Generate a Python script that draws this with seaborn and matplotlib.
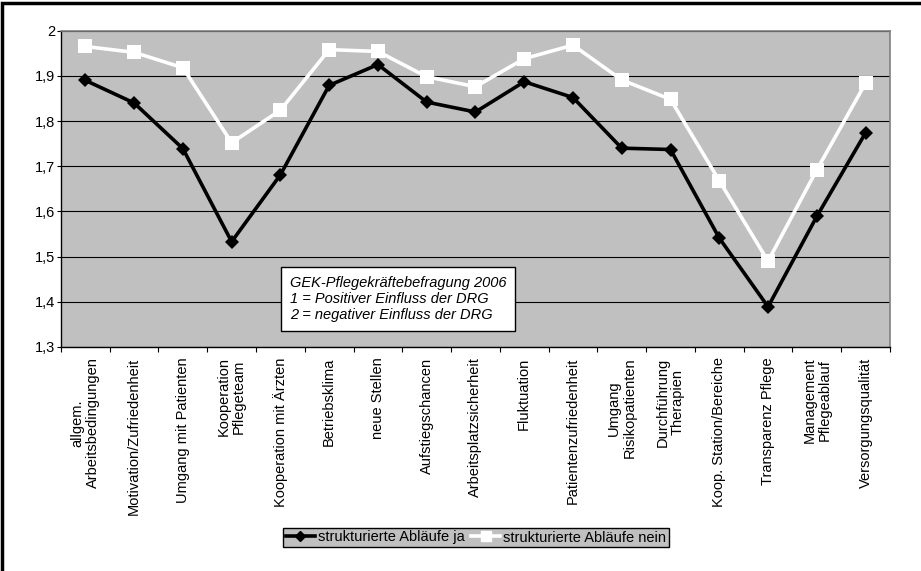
import numpy as np
import pandas as pd
import seaborn as sns
import matplotlib.pyplot as plt
from matplotlib.patches import Rectangle
from matplotlib.lines import Line2D

# data
categories = ["allgem.\nArbeitsbedingungen", "Motivation/Zufriedenheit", "Umgang mit Patienten",
              "Kooperation\nPflegeteam", "Kooperation mit Ärzten", "Betriebsklima", "neue Stellen",
              "Aufstiegschancen", "Arbeitsplatzsicherheit", "Fluktuation", "Patientenzufriedenheit",
              "Umgang\nRisikopatienten", "Durchführung\nTherapien", "Koop. Station/Bereiche",
              "Transparenz Pflege", "Management\nPflegeablauf", "Versorgungsqualität"]
ja = [1.890, 1.840, 1.739, 1.533, 1.681, 1.879, 1.925, 1.842, 1.820, 1.887, 1.852,
      1.740, 1.737, 1.541, 1.389, 1.589, 1.774]
nein = [1.965, 1.952, 1.918, 1.752, 1.824, 1.958, 1.954, 1.898, 1.876, 1.938, 1.968,
        1.891, 1.848, 1.668, 1.490, 1.692, 1.884]
series_names = ["strukturierte Abläufe ja", "strukturierte Abläufe nein"]
yticks = [1.3, 1.4, 1.5, 1.6, 1.7, 1.8, 1.9, 2.0]

df = pd.DataFrame({"pos": list(range(len(categories))) * 2,
                   "wert": ja + nein,
                   "serie": [series_names[0]] * len(ja) + [series_names[1]] * len(nein)})

plt.rcParams['font.family'] = ['Liberation Sans', 'DejaVu Sans']
FS = 10.5

fig = plt.figure(figsize=(9.21, 5.71), dpi=100)
ax = fig.add_axes([0.0662, 0.3923, 0.9001, 0.5540])
ax.set_facecolor("#c0c0c0")

sns.lineplot(data=df, x="pos", y="wert", hue="serie", style="serie",
             palette={series_names[0]: "black", series_names[1]: "white"},
             markers={series_names[0]: "D", series_names[1]: "s"},
             dashes=False, linewidth=2.6, markersize=7, markeredgewidth=0,
             legend=False, ax=ax, zorder=3)
for ln in ax.lines:
    if ln.get_color() == "white":
        ln.set_markersize(9.5)

n = len(categories)
ax.set_xlim(-0.5, n - 0.5)
ax.set_ylim(1.3, 2.0)
ax.set_yticks(yticks)
ax.set_yticklabels([f"{v:.1f}".replace(".", ",").replace("2,0", "2") for v in yticks], fontsize=FS)
ax.yaxis.grid(True, color="black", linewidth=0.8)
ax.set_axisbelow(True)

ax.set_xticks(np.arange(-0.5, n, 1.0))
ax.set_xticklabels([])
ax.set_xticks(np.arange(n), minor=True)
ax.set_xticklabels(categories, minor=True, rotation=90, fontsize=FS, ha="center", va="top",
                   multialignment="center", linespacing=1.1)
ax.tick_params(axis="x", which="minor", length=0, pad=7.5)
ax.tick_params(axis="x", which="major", length=3.5, direction="out", color="black")
ax.tick_params(axis="y", length=3, direction="out", color="black", pad=1)
ax.set_xlabel("")
ax.set_ylabel("")

for side in ["top", "right"]:
    ax.spines[side].set_color("#808080")
    ax.spines[side].set_linewidth(1.2)
for side in ["left", "bottom"]:
    ax.spines[side].set_color("black")
    ax.spines[side].set_linewidth(1.0)

fig.text(290 / 921, 1 - 299 / 571,
         "GEK-Pflegekräftebefragung 2006\n1 = Positiver Einfluss der DRG\n2 = negativer Einfluss der DRG",
         fontsize=FS, style="italic", ha="left", va="center", linespacing=1.2,
         bbox=dict(boxstyle="square,pad=0.6", facecolor="white", edgecolor="black", linewidth=1))

# legend
handles = [Line2D([], [], color="black", marker="D", markersize=5, linewidth=2.6),
           Line2D([], [], color="white", marker="s", markersize=6.5, linewidth=2.6)]
leg = fig.legend(handles, series_names, loc="center", bbox_to_anchor=(476 / 921, 1 - 537.5 / 571),
                 ncol=2, frameon=True, fancybox=False, handlelength=2.0, fontsize=FS,
                 handletextpad=0.2, columnspacing=0.45, borderpad=0.2, borderaxespad=0)
leg.get_frame().set_facecolor("#c0c0c0")
leg.get_frame().set_edgecolor("black")
leg.get_frame().set_linewidth(1)
leg.get_frame().set_alpha(1)

fig.patches.append(Rectangle((0.002, -0.01), 1.1, 1.004, transform=fig.transFigure,
                             fill=False, edgecolor="black", linewidth=2.5))

fig.savefig("out.png", dpi=100)
